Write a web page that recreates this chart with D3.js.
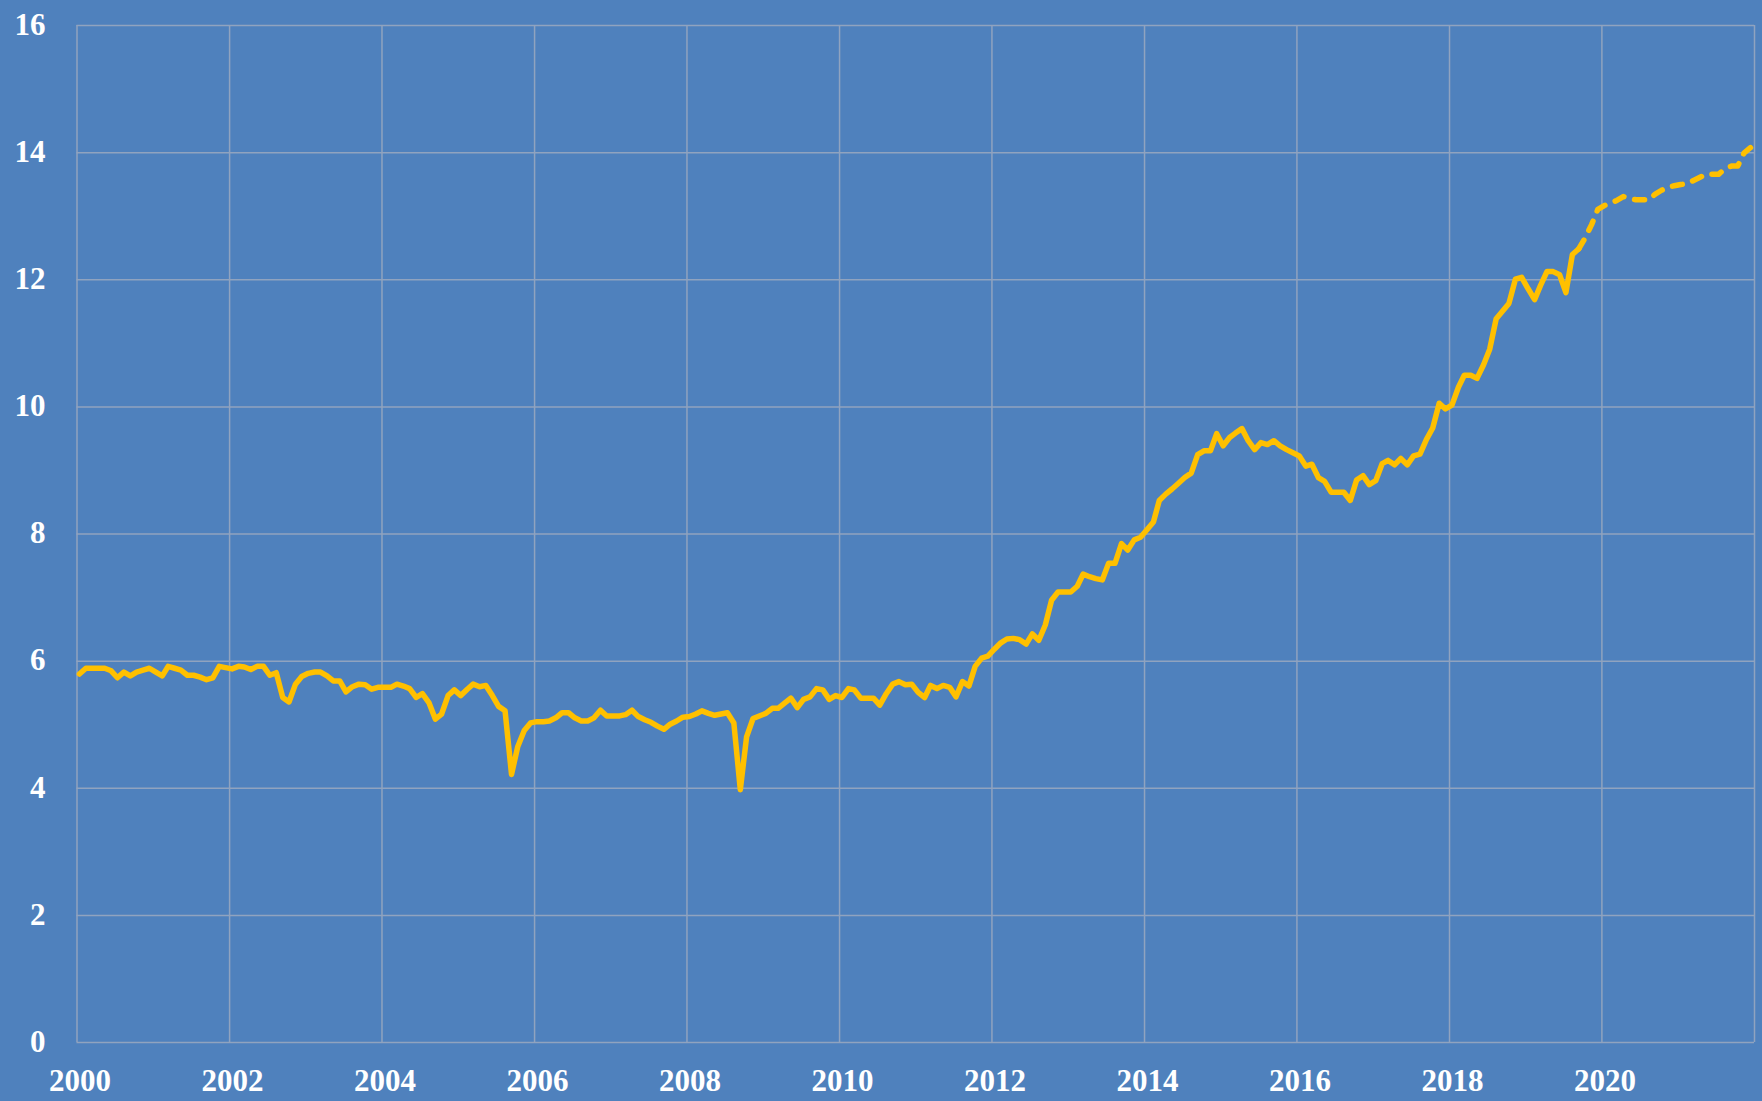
<!DOCTYPE html>
<html>
<head>
<meta charset="utf-8">
<script src="https://cdn.jsdelivr.net/npm/d3@7"></script>
<style>
  html, body { margin: 0; padding: 0; background: #4f81bd; overflow: hidden; }
  svg { display: block; }
</style>
</head>
<body>
<svg id="chart"></svg>
<script>
// monthly values, Jan 2000 .. Sep 2019 (solid line)
const actualValues = [
    5.79, 5.88, 5.88, 5.88, 5.88, 5.84, 5.73, 5.82, 5.76, 5.82, 5.85, 5.88,
    5.82, 5.76, 5.91, 5.88, 5.85, 5.77, 5.77, 5.74, 5.70, 5.73, 5.91, 5.89,
    5.87, 5.91, 5.90, 5.86, 5.91, 5.91, 5.77, 5.81, 5.42, 5.35, 5.63, 5.75,
    5.80, 5.82, 5.82, 5.76, 5.68, 5.68, 5.51, 5.59, 5.63, 5.62, 5.55, 5.58,
    5.58, 5.58, 5.63, 5.60, 5.56, 5.42, 5.48, 5.34, 5.08, 5.16, 5.45, 5.54,
    5.45, 5.55, 5.63, 5.59, 5.61, 5.45, 5.28, 5.21, 4.21, 4.65, 4.90, 5.02,
    5.04, 5.04, 5.05, 5.10, 5.18, 5.18, 5.10, 5.05, 5.05, 5.10, 5.22, 5.13,
    5.13, 5.13, 5.15, 5.22, 5.12, 5.07, 5.03, 4.97, 4.92, 5.00, 5.05, 5.11,
    5.12, 5.16, 5.21, 5.17, 5.14, 5.16, 5.18, 5.02, 3.97, 4.80, 5.09, 5.13,
    5.17, 5.25, 5.25, 5.33, 5.41, 5.26, 5.39, 5.43, 5.56, 5.54, 5.39, 5.45,
    5.42, 5.56, 5.54, 5.41, 5.41, 5.41, 5.30, 5.48, 5.63, 5.67, 5.62, 5.63,
    5.50, 5.42, 5.61, 5.56, 5.61, 5.58, 5.43, 5.67, 5.60, 5.91, 6.04, 6.07,
    6.18, 6.28, 6.34, 6.35, 6.33, 6.26, 6.42, 6.32, 6.56, 6.95, 7.08, 7.08,
    7.08, 7.17, 7.36, 7.32, 7.29, 7.27, 7.53, 7.53, 7.84, 7.74, 7.90, 7.94,
    8.06, 8.18, 8.52, 8.62, 8.70, 8.79, 8.88, 8.95, 9.24, 9.30, 9.30, 9.57,
    9.38, 9.51, 9.58, 9.65, 9.46, 9.32, 9.43, 9.40, 9.46, 9.38, 9.32, 9.27,
    9.22, 9.06, 9.09, 8.88, 8.82, 8.65, 8.65, 8.65, 8.52, 8.84, 8.91, 8.77,
    8.83, 9.10, 9.15, 9.08, 9.18, 9.08, 9.22, 9.25, 9.48, 9.66, 10.05, 9.96,
    10.02, 10.30, 10.49, 10.49, 10.44, 10.65, 10.90, 11.38, 11.50, 11.62, 12.00, 12.03,
    11.85, 11.68, 11.90, 12.12, 12.12, 12.07, 11.79, 12.39, 12.48
];

// monthly values, Sep 2019 .. Dec 2021 (dashed line)
const forecastValues = [
    12.48, 12.65, 12.86, 13.10,
    13.16, 13.20, 13.24, 13.30, 13.27, 13.25, 13.25, 13.25, 13.34, 13.40, 13.45, 13.47,
    13.49, 13.50, 13.55, 13.60, 13.65, 13.65, 13.65, 13.74, 13.78, 13.78, 13.99, 14.07
];

const yTicks = [0, 2, 4, 6, 8, 10, 12, 14, 16];
const gridYears = [2000, 2002, 2004, 2006, 2008, 2010, 2012, 2014, 2016, 2018, 2020, 2022];
const labelYears = [2000, 2002, 2004, 2006, 2008, 2010, 2012, 2014, 2016, 2018, 2020];

const width = 1762;
const height = 1101;
const margin = {top: 25, right: 8, bottom: 59, left: 76.5};

const actual = actualValues.map((v, i) => ({date: new Date(2000, i, 15), value: v}));
const forecast = forecastValues.map((v, i) => ({date: new Date(2019, 8 + i, 15), value: v}));

const x = d3.scaleTime()
    .domain([new Date(2000, 0, 1), new Date(2022, 0, 1)])
    .range([margin.left, width - margin.right]);

const y = d3.scaleLinear()
    .domain([0, 16])
    .range([height - margin.bottom, margin.top]);

const svg = d3.select("#chart")
    .attr("width", width)
    .attr("height", height);

svg.append("rect")
    .attr("width", width)
    .attr("height", height)
    .attr("fill", "#4f81bd");

const gridColor = "#90a3bf";

// horizontal grid + y labels
const yAxis = svg.append("g")
    .attr("transform", `translate(${margin.left},0)`)
    .call(d3.axisLeft(y)
        .tickValues(yTicks)
        .tickSize(-(width - margin.left - margin.right))
        .tickPadding(31)
        .tickFormat(d3.format("d")));

// vertical grid
const xGrid = svg.append("g")
    .attr("transform", `translate(0,${height - margin.bottom})`)
    .call(d3.axisBottom(x)
        .tickValues(gridYears.map(yr => new Date(yr, 0, 1)))
        .tickSize(-(height - margin.top - margin.bottom))
        .tickFormat(""));

// x labels
const xAxis = svg.append("g")
    .attr("transform", `translate(3,${height - margin.bottom})`)
    .call(d3.axisBottom(x)
        .tickValues(labelYears.map(yr => new Date(yr, 0, 1)))
        .tickSize(0)
        .tickPadding(27)
        .tickFormat(d3.timeFormat("%Y")));

[yAxis, xGrid, xAxis].forEach(g => {
    g.select(".domain").remove();
    g.selectAll(".tick line")
        .attr("stroke", gridColor)
        .attr("stroke-width", 1.5);
    g.selectAll(".tick text")
        .attr("fill", "#ffffff")
        .attr("font-family", "'Liberation Serif', 'DejaVu Serif', serif")
        .attr("font-weight", "bold")
        .attr("font-size", 31);
});
yAxis.selectAll(".tick text").attr("dy", "0.3em");

const line = d3.line()
    .x(d => x(d.date))
    .y(d => y(d.value));

svg.append("path")
    .datum(actual)
    .attr("fill", "none")
    .attr("stroke", "#ffc000")
    .attr("stroke-width", 5.5)
    .attr("stroke-linejoin", "round")
    .attr("stroke-linecap", "round")
    .attr("d", line);

svg.append("path")
    .datum(forecast)
    .attr("fill", "none")
    .attr("stroke", "#ffc000")
    .attr("stroke-width", 5.5)
    .attr("stroke-linejoin", "round")
    .attr("stroke-linecap", "round")
    .attr("stroke-dasharray", "10,11")
    .attr("d", line);
</script>
</body>
</html>
